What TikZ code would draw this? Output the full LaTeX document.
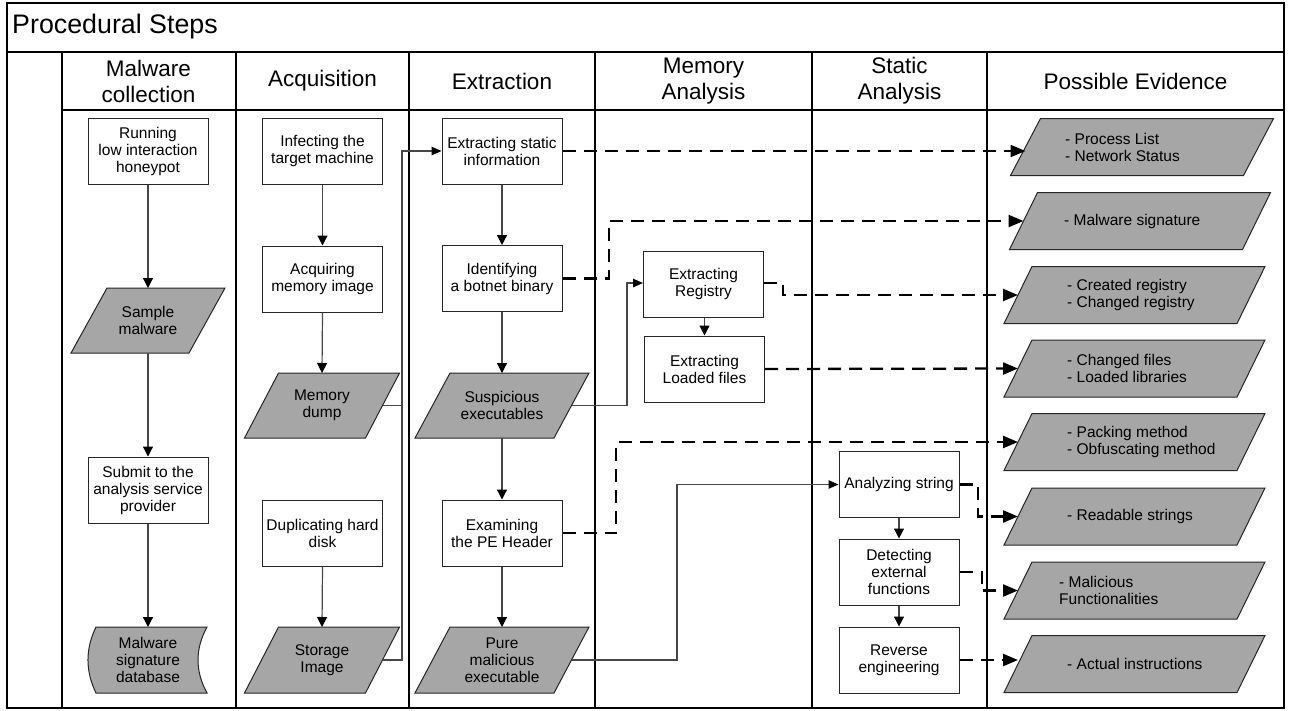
\documentclass[tikz,border=0pt]{standalone}
\usepackage{fontspec}
\setmainfont{Liberation Sans}
\usetikzlibrary{arrows.meta}
\newcommand\boxfont{\fontsize{15.5}{17}\selectfont}
\newcommand\hdrfont{\fontsize{22.5}{26}\selectfont}
\newcommand\pgram[7]{%
  \filldraw[pgshape] ({#2-#4/2+#6/2},{#3-#5/2}) -- ({#2+#4/2+#6/2},{#3-#5/2}) -- ({#2+#4/2-#6/2},{#3+#5/2}) -- ({#2-#4/2-#6/2},{#3+#5/2}) -- cycle;
  \node[pgtext] (#1) at (#2,#3) {#7};
  \coordinate (#1-l) at ({#2-#4/2},#3);
  \coordinate (#1-r) at ({#2+#4/2},#3);
  \coordinate (#1-t) at (#2,{#3-#5/2});
  \coordinate (#1-b) at (#2,{#3+#5/2});
}
\newcommand\evid[6]{% name, cx, cy, slant, textx, text
  \filldraw[pgshape] ({#2-116.5+#4/2},{#3-28.5}) -- ({#2+116.5+#4/2},{#3-28.5}) -- ({#2+116.5-#4/2},{#3+28.5}) -- ({#2-116.5-#4/2},{#3+28.5}) -- cycle;
  \node[pgtext,anchor=west,align=left] (#1) at (#5,#3) {#6};
  \coordinate (#1-l) at ({#2-116.5},#3);
}
\begin{document}
\begin{tikzpicture}[x=1pt,y=-1pt,
  frame/.style={draw=black, line width=1.3pt},
  box/.style={draw=black!85, line width=1pt, fill=white, minimum width=120pt, minimum height=66pt, align=center, font=\boxfont, inner sep=2pt},
  pgshape/.style={draw=black!85, line width=1pt, fill={rgb,255:red,166;green,166;blue,166}},
  pgtext/.style={align=center, font=\boxfont, inner sep=0pt},
  hdr/.style={align=center, font=\hdrfont, inner sep=0pt},
  conn/.style={draw=black!72, line width=1.2pt},
  varrow/.style={conn, -{Triangle[length=10pt,width=10pt,color=black]}},
  harrow/.style={conn, -{Triangle[length=10pt,width=8.5pt,color=black]}},
  dconn/.style={draw=black, line width=2.3pt, dash pattern=on 13pt off 8pt, -{Triangle[length=15pt,width=12pt]}}
]
\useasboundingbox (0,0) rectangle (1290,710);
% frame
\draw[frame] (7,3) rectangle (1284,708);
\draw[frame] (7,52) -- (1284,52);
\draw[frame] (62,52) -- (62,708);
\draw[frame] (62,110) -- (1284,110);
\foreach \xx in {236,409,595,812,987} \draw[frame] (\xx,52) -- (\xx,708);
\node[anchor=west, font=\fontsize{26.8}{30}\selectfont, inner sep=0pt] (title) at (12,27) {Procedural Steps};
% headers
\node[hdr] (h1) at (148.5,81) {Malware\\collection};
\node[hdr] (h2) at (322.5,81) {Acquisition};
\node[hdr] (h3) at (502,81) {Extraction};
\node[hdr] (h4) at (703.5,81) {Memory\\Analysis};
\node[hdr] (h5) at (899.5,81) {Static\\Analysis};
\node[hdr] (h6) at (1135.5,81) {Possible Evidence};
% malware collection lane
\node[box] (run) at (148,151) {Running\\low interaction\\honeypot};
\pgram{sm}{148}{320.5}{118}{65}{36}{Sample\\malware}
\node[box] (sub) at (148,490) {Submit to the\\analysis service\\provider};
\filldraw[pgshape] (96,627) -- (207,627) .. controls (195,649) and (195,671) .. (207,693) -- (96,693) .. controls (85.3,671) and (85.3,649) .. (96,627) -- cycle;
\node[pgtext] (db) at (148,660) {Malware\\signature\\database};
\coordinate (dbtop) at (148,627);
% acquisition lane
\node[box] (inf) at (322.5,151) {Infecting the\\target machine};
\node[box] (acq) at (322.5,279) {Acquiring\\memory image};
\pgram{md}{322}{405.5}{121}{65}{34}{Memory\\dump}
\node[box] (dup) at (322.5,533) {Duplicating hard\\disk};
\pgram{sto}{322}{660}{121}{66}{34}{Storage\\Image}
% extraction lane
\node[box] (es) at (502,151) {Extracting static\\information};
\node[box] (ib) at (502,278.5) {Identifying\\a botnet binary};
\pgram{sx}{502}{405.5}{139}{65}{35}{Suspicious\\executables}
\node[box] (pe) at (502,533) {Examining\\the PE Header};
\pgram{pm}{502}{660}{139}{66}{35}{Pure\\malicious\\executable}
% memory analysis lane
\node[box] (reg) at (703.5,284) {Extracting\\Registry};
\node[box] (lf) at (704.5,369) {Extracting\\Loaded files};
% static analysis lane
\node[box] (as) at (899,484.5) {Analyzing string};
\node[box] (de) at (899,572) {Detecting\\external\\functions};
\node[box] (re) at (899,660) {Reverse\\engineering};
% evidence lane
\evid{ev1}{1142}{147}{30}{1065}{- Process List\\- Network Status}
\evid{ev2}{1140}{221}{28}{1064}{- Malware signature}
\evid{ev3}{1134.5}{295}{28}{1067}{- Created registry\\- Changed registry}
\evid{ev4}{1134.5}{368.5}{28}{1067}{- Changed files\\- Loaded libraries}
\evid{ev5}{1134.5}{442}{28}{1067}{- Packing method\\- Obfuscating method}
\evid{ev6}{1134.5}{516.5}{28}{1067}{- Readable strings}
\evid{ev7}{1134.5}{590.5}{28}{1059}{- Malicious\\Functionalities}
\evid{ev8}{1134.5}{664}{28}{1067}{- Actual instructions}
% helper coordinates
\coordinate (busA) at (402,0);
\coordinate (busB) at (627,0);
\coordinate (busC) at (677,0);
\coordinate (dA) at (609,0);
\coordinate (dB) at (783,0);
\coordinate (dC) at (616,0);
\coordinate (dD) at (978,0);
\coordinate (dE) at (982,0);
% vertical arrows
\draw[varrow] (run.south) -- (sm-t);
\draw[varrow] (sm-b) -- (sub.north);
\draw[varrow] (sub.south) -- (dbtop);
\draw[varrow] (inf.south) -- (acq.north);
\draw[varrow] (acq.south) -- (md-t);
\draw[varrow] (dup.south) -- (sto-t);
\draw[varrow] (es.south) -- (ib.north);
\draw[varrow] (ib.south) -- (sx-t);
\draw[varrow] (sx-b) -- (pe.north);
\draw[varrow] (pe.south) -- (pm-t);
\draw[varrow] (reg.south -| lf.north) -- (lf.north);
\draw[varrow] (as.south) -- (de.north);
\draw[varrow] (de.south) -- (re.north);
% solid connectors
\draw[conn] (md-r) -- (md-r -| busA);
\draw[harrow] (sto-r) -- (sto-r -| busA) |- (es.west);
\draw[harrow] (sx-r) -- (sx-r -| busB) |- ([yshift=1pt]reg.west);
\draw[harrow] (pm-r) -- (pm-r -| busC) |- (as.west);
% dashed connectors
\draw[dconn] (es.east) -- (es.east -| ev1-l);
\draw[dconn] (ib.east) -- (ib.east -| dA) |- (ev2-l);
\draw[dconn] ([yshift=1pt]reg.east) -- ([yshift=1pt]reg.east -| dB) |- (ev3-l);
\draw[dconn] (lf.east) -- (ev4-l);
\draw[dconn] (pe.east) -- (pe.east -| dC) |- (ev5-l);
\draw[dconn] (as.east) -- (as.east -| dD) |- (ev6-l);
\draw[dconn] (de.east) -- (de.east -| dE) |- (ev7-l);
\draw[dconn] (re.east) -- (re.east -| ev8-l);
\end{tikzpicture}
\end{document}
